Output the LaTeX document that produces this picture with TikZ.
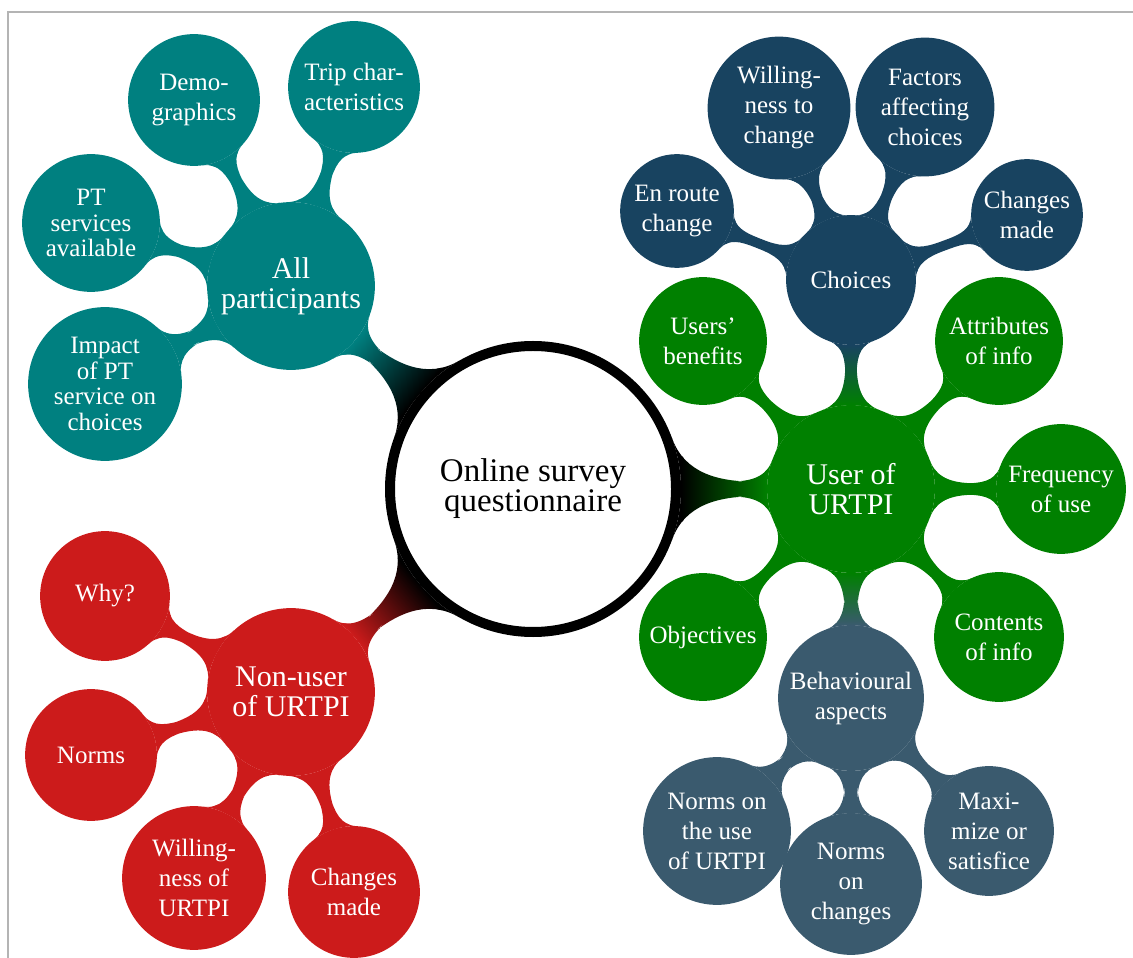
\documentclass[tikz,border=0pt]{standalone}
\usepackage{fontspec}
\setmainfont{Liberation Serif}
\usetikzlibrary{mindmap,backgrounds}

\definecolor{cTeal}{RGB}{0,128,128}
\definecolor{cGreen}{RGB}{0,128,0}
\definecolor{cRed}{RGB}{204,27,27}
\definecolor{cNavy}{RGB}{24,67,96}
\definecolor{cSlate}{RGB}{58,90,110}
\definecolor{cFrame}{RGB}{180,180,180}

\begin{document}
\begin{tikzpicture}[x=0.4pt, y=-0.4pt,
  idea/.style={circle, fill=#1, draw=#1, line width=0.7pt, text=white,
               inner sep=0pt, align=center},
  rad/.style={minimum size=0.8pt*#1},
  small text/.style={font=\fontsize{10}{12}\selectfont},
  dense text/.style={font=\fontsize{10}{10.2}\selectfont},
  big text/.style={font=\fontsize{12}{12}\selectfont},
  hub bar/.style={line width=6pt},
  twig bar/.style={line width=4.4pt},
]
\useasboundingbox (0,0) rectangle (1133,958);
\draw[cFrame, line width=0.6pt] (8,958) -- (8,12) -- (1133,12);

% central concept
\node[circle, fill=white, draw=black, line width=4pt, minimum size=114.4pt,
      inner sep=0pt, align=center, font=\fontsize{13.2}{12}\selectfont]
  (root) at (533,489) {Online survey\\questionnaire};

% main branches
\node[idea=cTeal,  rad=83, big text] (all)  at (291,286) {All\\participants};
\node[idea=cRed,   rad=83, big text] (non)  at (291,692) {Non-user\\of URTPI};
\node[idea=cGreen, rad=83, big text] (user) at (851,489) {User of\\URTPI};

% all participants
\node[idea=cTeal, rad=65, small text] (demo)   at (194,100) {Demo-\\graphics};
\node[idea=cTeal, rad=65, small text] (trip)   at (354,87)  {Trip char-\\acteristics};
\node[idea=cTeal, rad=68, dense text] (pt)     at (91,223)  {PT\\services\\available};
\node[idea=cTeal, rad=76, dense text] (impact) at (105,384) {Impact\\of PT\\service on\\choices};

% non-users
\node[idea=cRed, rad=64, small text] (why)    at (105,596) {Why?};
\node[idea=cRed, rad=65, small text] (norms)  at (91,755)  {Norms};
\node[idea=cRed, rad=71, small text] (willof) at (194,878) {Willing-\\ness of\\URTPI};
\node[idea=cRed, rad=65, small text] (madeA)  at (354,892) {Changes\\made};

% users
\node[idea=cNavy,  rad=64, small text] (choices) at (851,280) {Choices};
\node[idea=cGreen, rad=63, small text] (attr)    at (999,341) {Attributes\\of info};
\node[idea=cGreen, rad=64, small text] (freq)    at (1061,489) {Frequency\\of use};
\node[idea=cGreen, rad=64, small text] (cont)    at (999,637) {Contents\\of info};
\node[idea=cSlate, rad=72, small text] (behav)   at (851,698) {Behavioural\\aspects};
\node[idea=cGreen, rad=63, small text] (obj)     at (703,637) {Objectives};
\node[idea=cGreen, rad=63, small text] (bene)    at (703,341) {Users'\\benefits};

% choices
\node[idea=cNavy, rad=56,   small text] (enroute) at (677,211)  {En route\\change};
\node[idea=cNavy, rad=70.5, small text] (willto)  at (779,108)  {Willing-\\ness to\\change};
\node[idea=cNavy, rad=68.5, small text] (factors) at (925,107)  {Factors\\affecting\\choices};
\node[idea=cNavy, rad=55,   small text] (madeB)   at (1027,215) {Changes\\made};

% behavioural aspects
\node[idea=cSlate, rad=73, small text] (normuse) at (717,831) {Norms on\\the use\\of URTPI};
\node[idea=cSlate, rad=70, small text] (normch)  at (851,884) {Norms\\on\\changes};
\node[idea=cSlate, rad=64, small text] (maxi)    at (989,831) {Maxi-\\mize or\\satisfice};

% connection bars behind the concepts
\begin{scope}[on background layer]
  \path (root) to[hub bar, circle connection bar switch color=from (black) to (cTeal)]  (all);
  \path (root) to[hub bar, circle connection bar switch color=from (black) to (cRed)]   (non);
  \path (root) to[hub bar, circle connection bar switch color=from (black) to (cGreen)] (user);

  \path (all) to[twig bar, circle connection bar switch color=from (cTeal) to (cTeal)] (demo);
  \path (all) to[twig bar, circle connection bar switch color=from (cTeal) to (cTeal)] (trip);
  \path (all) to[twig bar, circle connection bar switch color=from (cTeal) to (cTeal)] (pt);
  \path (all) to[twig bar, circle connection bar switch color=from (cTeal) to (cTeal)] (impact);

  \path (non) to[twig bar, circle connection bar switch color=from (cRed) to (cRed)] (why);
  \path (non) to[twig bar, circle connection bar switch color=from (cRed) to (cRed)] (norms);
  \path (non) to[twig bar, circle connection bar switch color=from (cRed) to (cRed)] (willof);
  \path (non) to[twig bar, circle connection bar switch color=from (cRed) to (cRed)] (madeA);

  \path (user) to[twig bar, circle connection bar switch color=from (cGreen) to (cNavy)]  (choices);
  \path (user) to[twig bar, circle connection bar switch color=from (cGreen) to (cGreen)] (attr);
  \path (user) to[twig bar, circle connection bar switch color=from (cGreen) to (cGreen)] (freq);
  \path (user) to[twig bar, circle connection bar switch color=from (cGreen) to (cGreen)] (cont);
  \path (user) to[twig bar, circle connection bar switch color=from (cGreen) to (cSlate)] (behav);
  \path (user) to[twig bar, circle connection bar switch color=from (cGreen) to (cGreen)] (obj);
  \path (user) to[twig bar, circle connection bar switch color=from (cGreen) to (cGreen)] (bene);

  \path (choices) to[twig bar, circle connection bar switch color=from (cNavy) to (cNavy)] (enroute);
  \path (choices) to[twig bar, circle connection bar switch color=from (cNavy) to (cNavy)] (willto);
  \path (choices) to[twig bar, circle connection bar switch color=from (cNavy) to (cNavy)] (factors);
  \path (choices) to[twig bar, circle connection bar switch color=from (cNavy) to (cNavy)] (madeB);

  \path (behav) to[twig bar, circle connection bar switch color=from (cSlate) to (cSlate)] (normuse);
  \path (behav) to[twig bar, circle connection bar switch color=from (cSlate) to (cSlate)] (normch);
  \path (behav) to[twig bar, circle connection bar switch color=from (cSlate) to (cSlate)] (maxi);
\end{scope}
\end{tikzpicture}
\end{document}
